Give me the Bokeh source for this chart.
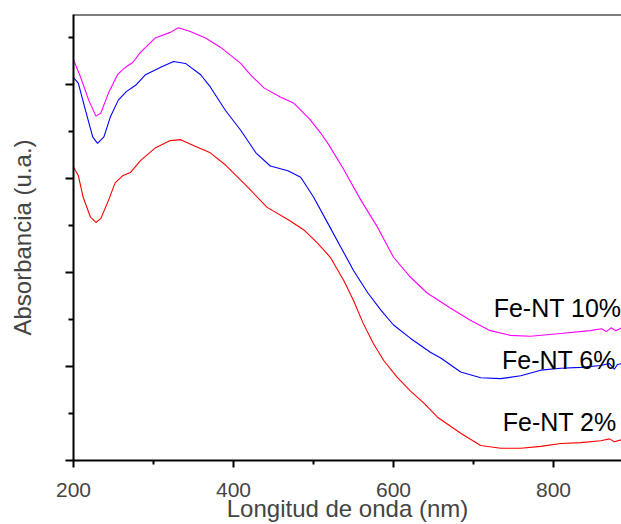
from bokeh.plotting import figure
from bokeh.models import FixedTicker, Range1d, Span
from bokeh.core.properties import value
from bokeh.embed import file_html
from bokeh.resources import INLINE

# Fe-NT 10 %
wl_10 = [200, 209, 219, 228, 234, 244, 255, 265, 274, 284, 302, 321, 331, 346, 365, 384,
         409, 421, 438, 459, 475, 496, 509, 518, 538, 559, 580, 600, 621, 642, 671, 696,
         721, 746, 771, 809, 846, 860, 866, 872, 878, 885]
abs_10 = [4.26, 4.07, 3.83, 3.66, 3.69, 3.91, 4.10, 4.18, 4.23, 4.34, 4.49, 4.55, 4.60, 4.56,
          4.49, 4.39, 4.22, 4.10, 3.96, 3.86, 3.80, 3.62, 3.48, 3.37, 3.09, 2.77, 2.48, 2.16,
          1.95, 1.78, 1.62, 1.49, 1.38, 1.33, 1.32, 1.35, 1.38, 1.40, 1.37, 1.41, 1.38, 1.41]

# Fe-NT 6 %
wl_6 = [200, 206, 215, 224, 230, 238, 246, 256, 266, 278, 290, 309, 325, 340, 359, 371, 390,
        409, 428, 446, 468, 484, 500, 518, 534, 550, 568, 584, 600, 621, 646, 659, 684, 709,
        734, 759, 784, 809, 834, 859, 870, 876, 880, 885]
abs_6 = [4.07, 4.01, 3.72, 3.44, 3.37, 3.44, 3.65, 3.83, 3.92, 3.99, 4.10, 4.18, 4.24, 4.22,
         4.10, 3.97, 3.72, 3.51, 3.27, 3.13, 3.08, 3.01, 2.80, 2.52, 2.27, 2.02, 1.78, 1.60,
         1.44, 1.30, 1.15, 1.09, 0.94, 0.88, 0.87, 0.90, 0.96, 0.98, 0.99, 1.01, 1.03, 0.97,
         1.02, 1.03]

# Fe-NT 2 %
wl_2 = [200, 206, 212, 221, 228, 234, 244, 252, 262, 271, 284, 302, 321, 334, 352, 371, 390,
        415, 442, 470, 488, 505, 521, 538, 550, 562, 575, 588, 605, 621, 638, 655, 684, 709,
        734, 759, 784, 809, 834, 859, 870, 876, 885]
abs_2 = [3.12, 3.03, 2.80, 2.59, 2.53, 2.57, 2.77, 2.95, 3.03, 3.06, 3.19, 3.32, 3.40, 3.41,
         3.34, 3.27, 3.14, 2.93, 2.69, 2.55, 2.45, 2.31, 2.16, 1.91, 1.70, 1.46, 1.24, 1.06,
         0.88, 0.74, 0.61, 0.46, 0.29, 0.16, 0.13, 0.13, 0.15, 0.18, 0.19, 0.21, 0.23, 0.20,
         0.22]

series_names = ["Fe-NT 10%", "Fe-NT 6%", "Fe-NT 2%"]
series_colors = ["#FF00FF", "#0000FF", "#FF0000"]
label_x = [885, 878, 879]
label_y = [1.62, 1.07, 0.41]

x_major = [200, 400, 600, 800]
x_minor = [300, 500, 700]
y_major = [0, 1, 2, 3, 4]
y_minor = [0.5, 1.5, 2.5, 3.5, 4.5]

FONT = "Liberation Sans"

p = figure(width=621, height=524, output_backend="svg", toolbar_location=None,
           x_range=Range1d(200, 885), y_range=Range1d(0, 4.74),
           min_border_left=73, min_border_right=0, min_border_top=14, min_border_bottom=63)
p.grid.visible = False
p.outline_line_color = None
p.background_fill_color = "white"
p.border_fill_color = "white"

for wl, ab, c in zip([wl_10, wl_6, wl_2], [abs_10, abs_6, abs_2], series_colors):
    p.line(wl, ab, line_color=c, line_width=1.1)

p.text(x=label_x, y=label_y, text=series_names, text_align="right",
       text_baseline="alphabetic", text_font=value(FONT), text_font_size="25px",
       text_color="black")

top = Span(location=4.74, dimension="width", line_color="black", line_width=2)
p.add_layout(top)

for ax in (p.xaxis[0], p.yaxis[0]):
    ax.axis_line_width = 2
    ax.major_tick_line_width = 2
    ax.minor_tick_line_width = 2
    ax.major_tick_in = 0
    ax.minor_tick_in = 0
    ax.axis_label_text_font = FONT
    ax.axis_label_text_font_style = "normal"
    ax.axis_label_text_font_size = "24px"
    ax.major_label_text_font = FONT
    ax.major_label_text_font_size = "21px"
    ax.axis_line_color = "black"
    ax.major_tick_line_color = "black"
    ax.minor_tick_line_color = "black"

p.xaxis.ticker = FixedTicker(ticks=x_major, minor_ticks=x_minor)
p.yaxis.ticker = FixedTicker(ticks=y_major, minor_ticks=y_minor)
p.xaxis.major_tick_out = 7
p.xaxis.minor_tick_out = 4
p.yaxis.major_tick_out = 8
p.yaxis.minor_tick_out = 5
p.xaxis.axis_label = "Longitud de onda (nm)"
p.yaxis.axis_label = "Absorbancia (u.a.)"
p.xaxis.major_label_standoff = 15
p.xaxis.axis_label_standoff = -5
p.yaxis.major_label_overrides = {t: "" for t in y_major}
p.yaxis.major_label_standoff = 0
p.yaxis.axis_label_standoff = 30

open("out.html", "w").write(file_html(p, INLINE))
